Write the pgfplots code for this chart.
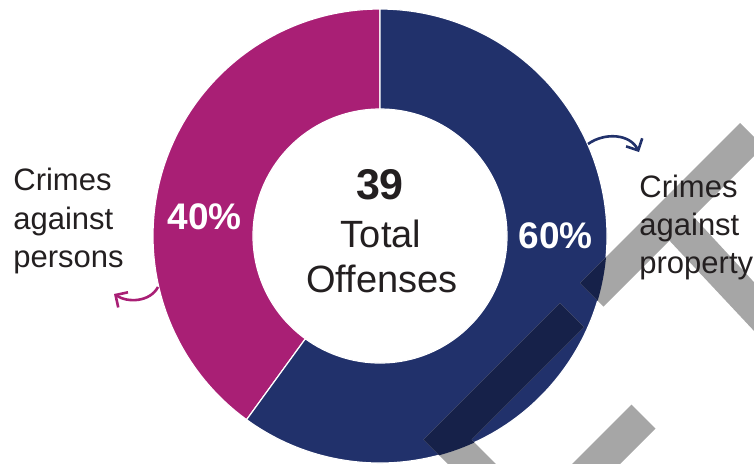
\documentclass[border=0pt]{standalone}
\usepackage{pgfplots}
\pgfplotsset{compat=1.18}
\usepackage{pgfplotstable}
\usepackage{fontspec}
\setmainfont{Liberation Sans}
\usetikzlibrary{arrows.meta}

\definecolor{persons}{HTML}{A91F75}
\definecolor{property}{HTML}{21316B}
\definecolor{stamp}{HTML}{A6A6A6}
\definecolor{stampdark}{HTML}{162149}
\definecolor{ink}{HTML}{231F20}

% share of the 39 offenses, in percent
\pgfplotstableread{
group share
persons 40
property 60
}\shares

\begin{document}
\begin{tikzpicture}
\pgfplotstablegetelem{0}{share}\of\shares
\pgfmathsetmacro\splitang{90+3.6*\pgfplotsretval}
\pgfplotstablegetelem{1}{share}\of\shares
\pgfmathsetmacro\endang{\splitang+3.6*\pgfplotsretval}
\def\ro{113.5pt}\def\ri{63.5pt}
\begin{axis}[hide axis, scale only axis, width=377pt, height=231.5pt,
  xmin=0, xmax=754, ymin=0, ymax=463, y dir=reverse]
% donut
\fill[persons, draw=white, line width=0.6pt] (axis cs:380,236) ++(90:\ro)
  arc[start angle=90, end angle=\splitang, radius=\ro]
  -- ([shift={(\splitang:\ri)}]axis cs:380,236)
  arc[start angle=\splitang, end angle=90, radius=\ri] -- cycle;
\fill[property, draw=white, line width=0.6pt] ([shift={(\splitang:\ro)}]axis cs:380,236)
  arc[start angle=\splitang, end angle=\endang, radius=\ro]
  -- ([shift={(\endang:\ri)}]axis cs:380,236)
  arc[start angle=\endang, end angle=\splitang, radius=\ri] -- cycle;
% grey stamp across the right side
\fill[stamp] (axis cs:580,283) -- (axis cs:603.5,306.5) -- (axis cs:763.5,146.5) -- (axis cs:740,123) -- cycle;
\fill[stamp] (axis cs:667,238) -- (axis cs:691,214) -- (axis cs:800,332) -- (axis cs:800,380) -- cycle;
\fill[stamp] (axis cs:560,303) -- (axis cs:584,327) -- (axis cs:471.5,439.5) -- (axis cs:520,488)
  -- (axis cs:472,488) -- (axis cs:423.5,439.5) -- cycle;
\fill[stamp] (axis cs:631.5,404.5) -- (axis cs:655.5,428.5) -- (axis cs:584,500) -- (axis cs:536,500) -- cycle;
\begin{scope}
\clip (axis cs:380,236) circle[radius=\ro];
\fill[stampdark] (axis cs:580,283) -- (axis cs:603.5,306.5) -- (axis cs:763.5,146.5) -- (axis cs:740,123) -- cycle;
\fill[stampdark] (axis cs:560,303) -- (axis cs:584,327) -- (axis cs:471.5,439.5) -- (axis cs:520,488)
  -- (axis cs:472,488) -- (axis cs:423.5,439.5) -- cycle;
\end{scope}
% arrows
\draw[persons, line width=1.3pt, -{Straight Barb[length=4.5pt,width=9pt]}]
  (axis cs:158,287) .. controls (axis cs:150,302) and (axis cs:128,303) .. (axis cs:114,294);
\draw[property, line width=1.3pt, -{Straight Barb[length=4.5pt,width=9pt]}]
  (axis cs:588,144) .. controls (axis cs:605,132) and (axis cs:630,134) .. (axis cs:639,152);
% centre
\node[anchor=base, inner sep=0, text=ink, font=\fontsize{21.5}{21.5}\selectfont\bfseries] at (axis cs:380,199) {39};
\node[anchor=base, inner sep=0, text=ink, font=\fontsize{19}{19}\selectfont] at (axis cs:381,247) {Total};
\node[anchor=base, inner sep=0, text=ink, font=\fontsize{19}{19}\selectfont] at (axis cs:382,292) {Offenses};
% percentages
\node[anchor=base, inner sep=0, text=white, font=\fontsize{18.5}{18.5}\selectfont\bfseries] at (axis cs:204.5,229) {40\%};
\node[anchor=base, inner sep=0, text=white, font=\fontsize{18.5}{18.5}\selectfont\bfseries] at (axis cs:555.5,248) {60\%};
% labels
\node[anchor=base west, inner sep=0, text=ink, font=\fontsize{15.5}{15.5}\selectfont] at (axis cs:13,190) {Crimes};
\node[anchor=base west, inner sep=0, text=ink, font=\fontsize{15.5}{15.5}\selectfont] at (axis cs:13,229) {against};
\node[anchor=base west, inner sep=0, text=ink, font=\fontsize{15.5}{15.5}\selectfont] at (axis cs:13,267) {persons};
\node[anchor=base west, inner sep=0, text=ink, font=\fontsize{15.5}{15.5}\selectfont] at (axis cs:639,197) {Crimes};
\node[anchor=base west, inner sep=0, text=ink, font=\fontsize{15.5}{15.5}\selectfont] at (axis cs:639,235) {against};
\node[anchor=base west, inner sep=0, text=ink, font=\fontsize{15.5}{15.5}\selectfont] at (axis cs:639,273) {property};
\end{axis}
\pgfresetboundingbox
\path (current axis.south west) rectangle (current axis.north east);
\end{tikzpicture}
\end{document}
